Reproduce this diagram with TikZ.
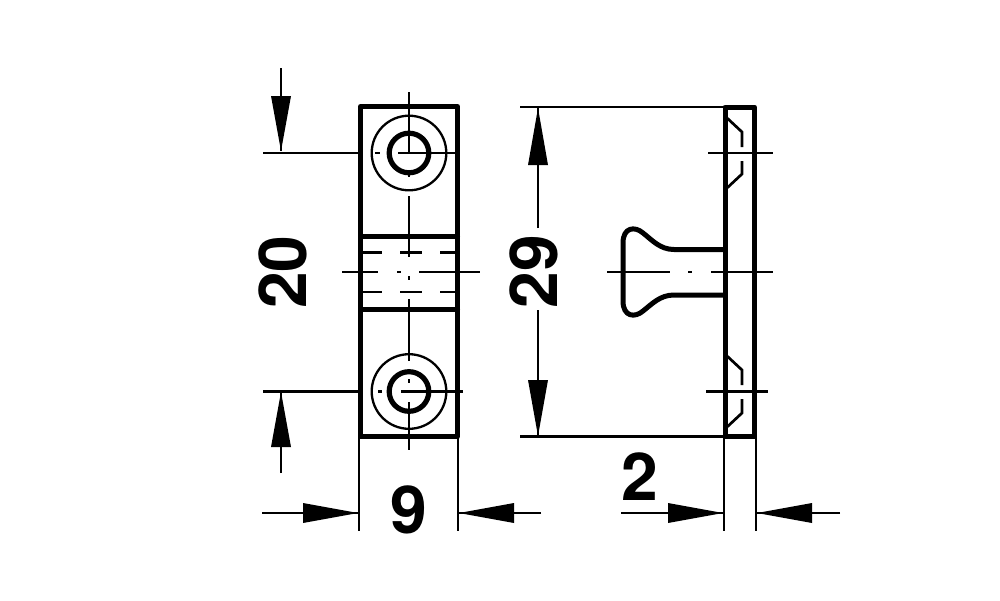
\documentclass[tikz,border=0pt]{standalone}
\usepackage{fontspec}
\setmainfont{TeX Gyre Heros}
\begin{document}
\begin{tikzpicture}[x=1pt,y=-1pt,
  thin line/.style={line width=2.3pt,black},
  heavy/.style={line width=5pt,black,line cap=round,line join=round},
  medium/.style={line width=2.7pt,black},
  dimtext/.style={font=\fontsize{66pt}{66pt}\selectfont\bfseries,inner sep=0pt,text=black}]
\useasboundingbox[fill=white] (0,0) rectangle (1000,600);
% ---- left view: outline
\draw[heavy] (360.5,106.5) rectangle (457.5,436.5);
\draw[heavy] (360.5,236) -- (457.5,236);
\draw[heavy] (360.5,309.5) -- (457.5,309.5);
% circles
\foreach \cy in {153,391.5}{
  \draw[line width=2.3pt] (409,\cy) circle (37.3);
  \draw[line width=5.2pt] (409,\cy) circle (19.8);
}
% centre lines left view
\draw[thin line] (409,92) -- (409,153);
\draw[thin line] (409,172) -- (409,177);
\draw[thin line] (409,196) -- (409,257);
\draw[thin line] (409,276) -- (409,280);
\draw[thin line] (409,299) -- (409,361);
\draw[thin line] (409,379) -- (409,383);
\draw[thin line] (409,402) -- (409,450);
\draw[thin line] (375,153) -- (380,153);
\draw[thin line] (398,153) -- (460,153);
\draw[thin line] (378,391.5) -- (382,391.5);
\draw[thin line] (401,391.5) -- (463,391.5);
\draw[thin line] (342,272) -- (378,272);
\draw[thin line] (397,272) -- (401,272);
\draw[thin line] (419,272) -- (480,272);
\foreach \yy in {252.5,291.7}{
  \draw[thin line] (363,\yy) -- (382,\yy);
  \draw[thin line] (400,\yy) -- (422,\yy);
  \draw[thin line] (440,\yy) -- (455,\yy);
}
% ---- right view
\draw[heavy] (725,107) rectangle (754.5,436.5);
\draw[line width=5pt,line join=round] (725,249.5) -- (674,249.5)
  .. controls (660,249.5) and (652,240) .. (643,233)
  .. controls (635,226) and (623,227) .. (623,243)
  -- (623,301)
  .. controls (623,317) and (635,318) .. (643,311)
  .. controls (652,304) and (660,295) .. (674,295)
  -- (725,295);
\draw[thin line] (607,272) -- (670,272);
\draw[thin line] (688,272) -- (692,272);
\draw[thin line] (711,272) -- (773,272);
\draw[thin line] (708,153) -- (773,153);
\draw[thin line] (706,391.5) -- (768,391.5);
\draw[medium] (727,118) -- (742,132) -- (742,147);
\draw[medium] (742,161) -- (742,174) -- (727,188);
\draw[medium] (727,356) -- (742,370) -- (742,385);
\draw[medium] (742,399) -- (742,413) -- (727,427);
% ---- extension lines
\draw[thin line] (263,153) -- (360,153);
\draw[thin line] (263,391.5) -- (360,391.5);
\draw[thin line] (520,107) -- (725,107);
\draw[thin line] (520,436.5) -- (725,436.5);
\draw[thin line] (359,437) -- (359,531);
\draw[thin line] (458,437) -- (458,531);
\draw[thin line] (724,437) -- (724,531);
\draw[thin line] (756,437) -- (756,531);
% ---- dimension arrows
\newcommand{\varrow}[4]{% x, tip y, base y, tail y
  \draw[thin line] (#1,#4) -- (#1,#2);
  \fill[black] (#1,#2) -- (#1-10,#3) -- (#1+10,#3) -- cycle;
}
\newcommand{\harrow}[4]{% y, tip x, base x, tail x
  \draw[thin line] (#4,#1) -- (#2,#1);
  \fill[black] (#2,#1) -- (#3,#1-10) -- (#3,#1+10) -- cycle;
}
\varrow{281}{151}{96}{68}
\varrow{281}{392}{447}{473}
\varrow{538}{108}{165}{228}
\varrow{538}{436}{380}{310}
\harrow{513}{358}{303}{262}
\harrow{513}{459}{514}{541}
\harrow{513}{723}{668}{621}
\harrow{513}{757}{812}{840}
% ---- labels
\node[dimtext,rotate=90] (d20) at (282.5,272) {20};
\node[dimtext,rotate=90] (d29) at (534,271.5) {29};
\node[dimtext] (d9) at (409,510) {9};
\node[dimtext] (d2) at (639.5,476.5) {2};
\end{tikzpicture}
\end{document}
